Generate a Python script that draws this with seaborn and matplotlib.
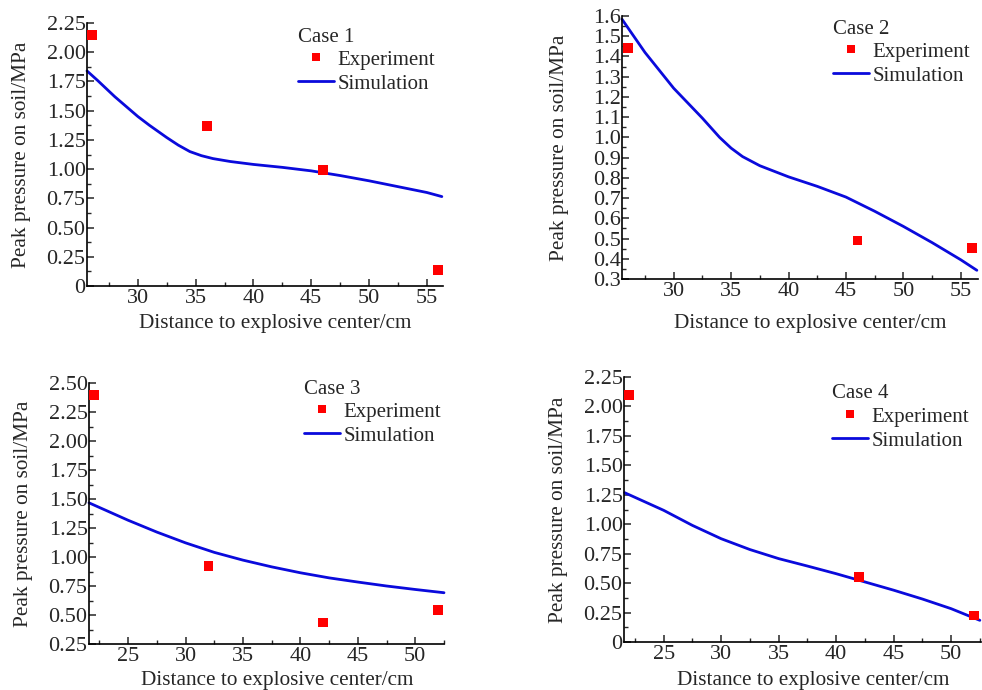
import numpy as np
import pandas as pd
import seaborn as sns
import matplotlib
matplotlib.use("Agg")
import matplotlib.pyplot as plt
from matplotlib.ticker import MultipleLocator, FuncFormatter
from matplotlib.lines import Line2D

# ---- data ----
case_names = ["Case 1", "Case 2", "Case 3", "Case 4"]

exp_x_1 = [26, 36, 46, 56]
exp_y_1 = [2.15, 1.37, 0.99, 0.14]
sim_x_1 = [25.6, 26.5, 28, 29, 30, 31, 32.5, 33.5, 34.5, 35.5, 36.5, 38, 40, 42.5, 45, 47.5, 50, 52.5, 55, 56.3]
sim_y_1 = [1.84, 1.76, 1.62, 1.535, 1.45, 1.375, 1.27, 1.205, 1.15, 1.115, 1.09, 1.065, 1.04, 1.015, 0.985, 0.945, 0.90, 0.85, 0.80, 0.765]

exp_x_2 = [26, 46, 56]
exp_y_2 = [1.44, 0.49, 0.455]
sim_x_2 = [25.5, 27.5, 30, 32.5, 34, 35, 36, 37.5, 40, 42.5, 45, 47.5, 50, 52.5, 55, 56.4]
sim_y_2 = [1.584, 1.42, 1.243, 1.095, 1.0, 0.947, 0.905, 0.86, 0.805, 0.758, 0.705, 0.635, 0.56, 0.48, 0.395, 0.343]

exp_x_3 = [22, 32, 42, 52]
exp_y_3 = [2.40, 0.92, 0.435, 0.54]
sim_x_3 = [21.6, 25, 27.5, 30, 32.5, 35, 37.5, 40, 42.5, 45, 47.5, 50, 52.5]
sim_y_3 = [1.467, 1.317, 1.215, 1.122, 1.04, 0.973, 0.915, 0.864, 0.82, 0.784, 0.75, 0.72, 0.692]

exp_x_4 = [22, 42, 52]
exp_y_4 = [2.10, 0.55, 0.225]
sim_x_4 = [21.6, 25, 27.5, 30, 32.5, 35, 37.5, 40, 42, 45, 47.5, 50, 52.5]
sim_y_4 = [1.268, 1.118, 0.99, 0.877, 0.785, 0.708, 0.645, 0.58, 0.524, 0.44, 0.365, 0.283, 0.184]

exp_x = [exp_x_1, exp_x_2, exp_x_3, exp_x_4]
exp_y = [exp_y_1, exp_y_2, exp_y_3, exp_y_4]
sim_x = [sim_x_1, sim_x_2, sim_x_3, sim_x_4]
sim_y = [sim_y_1, sim_y_2, sim_y_3, sim_y_4]

xlims = [(25.6, 56.4), (25.5, 56.5), (21.6, 52.5), (21.55, 52.6)]
ylims = [(0, 2.25), (0.3, 1.6), (0.25, 2.5), (0, 2.25)]
x_major = [5, 5, 5, 5]
y_major = [0.25, 0.1, 0.25, 0.25]
y_fmt = ["{:.2f}", "{:.1f}", "{:.2f}", "{:.2f}"]

# axes boxes in pixels: left, top, right, bottom
boxes = [(87, 23, 443, 286), (622, 16, 978, 279), (89, 383, 444, 644), (624, 377, 981, 642)]
# legend block position (pixels): left edge of handle, centre of title line
legend_pos = [(298, 37), (833, 29), (304, 389), (832, 394)]
# x-label padding (pt) and y-label padding (pt)
xlab_pad = [4.5, 9.5, 3.8, 5.2]
ylab_pad = [11, 17, 11, 11]

sns.set_theme(style="ticks")
plt.rcParams["font.family"] = ["Liberation Serif", "DejaVu Serif"]
plt.rcParams["xtick.direction"] = "in"
plt.rcParams["ytick.direction"] = "in"

W, H = 982, 690
fig = plt.figure(figsize=(W / 100, H / 100), dpi=100)

sim_color = "#0a0adc"
exp_color = "#ff0000"
tick_fs = 16
label_fs = 15.3
leg_fs = 15

for i in range(4):
    l, t, r, b = boxes[i]
    ax = fig.add_axes([l / W, 1 - b / H, (r - l) / W, (b - t) / H])

    sim = pd.DataFrame({"x": sim_x[i], "y": sim_y[i]})
    exp = pd.DataFrame({"x": exp_x[i], "y": exp_y[i]})
    sns.lineplot(data=sim, x="x", y="y", ax=ax, color=sim_color, linewidth=2.0,
                 sort=False, clip_on=False)
    sns.scatterplot(data=exp, x="x", y="y", ax=ax, color=exp_color, marker="s",
                    s=50, edgecolor="none", clip_on=False, zorder=5)

    ax.set_xlim(*xlims[i])
    ax.set_ylim(*ylims[i])
    ax.xaxis.set_major_locator(MultipleLocator(x_major[i]))
    ax.xaxis.set_minor_locator(MultipleLocator(x_major[i] / 2))
    ax.yaxis.set_major_locator(MultipleLocator(y_major[i]))
    ax.yaxis.set_minor_locator(MultipleLocator(y_major[i] / 2))
    fmt = y_fmt[i]
    ax.yaxis.set_major_formatter(FuncFormatter(lambda v, p, f=fmt: "0" if abs(v) < 1e-9 else f.format(v)))

    sns.despine(ax=ax)
    for s in ["left", "bottom"]:
        ax.spines[s].set_linewidth(1.2)
        ax.spines[s].set_color("black")
    ax.tick_params(which="major", length=5, width=1.1, labelsize=tick_fs, pad=2)
    ax.tick_params(which="minor", length=3, width=1.0)
    ax.tick_params(axis="y", pad=1)

    ax.set_xlabel("Distance to explosive center/cm", fontsize=label_fs, labelpad=xlab_pad[i])
    ax.set_ylabel("Peak pressure on soil/MPa", fontsize=label_fs, labelpad=ylab_pad[i])
    ax.xaxis.label.set_x(0.5 + 10.5 / (r - l))

    # legend: case title as text, entries as legend below it
    lx, ly = legend_pos[i]
    ax_x = (lx - l) / (r - l)
    ax.text(ax_x, 1 - (ly - t) / (b - t), case_names[i], transform=ax.transAxes,
            ha="left", va="center", fontsize=leg_fs)
    handles = [
        Line2D([], [], color=exp_color, marker="s", linestyle="none", markersize=6,
               markeredgewidth=0),
        Line2D([], [], color=sim_color, linewidth=2.0),
    ]
    ax.legend(handles, ["Experiment", "Simulation"],
              loc="upper left", bbox_to_anchor=(ax_x, 1 - (ly + 13 - t) / (b - t)),
              frameon=False, fontsize=leg_fs, handlelength=1.75, handletextpad=0.15,
              labelspacing=0.22, borderpad=0, borderaxespad=0)

fig.savefig("out.png", dpi=100)
